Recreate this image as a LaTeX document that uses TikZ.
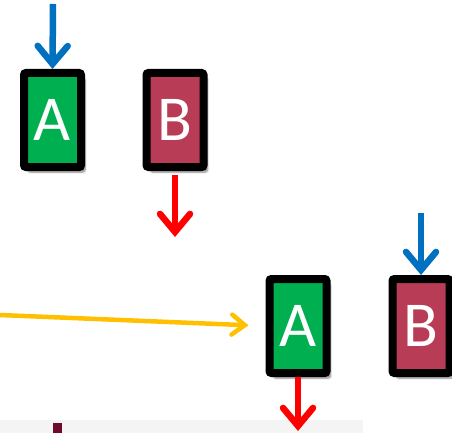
\documentclass[tikz,border=0pt]{standalone}
\usepackage{fontspec}
\setmainfont{Carlito}
\usetikzlibrary{arrows.meta,shadows.blur}
\definecolor{cardgreen}{RGB}{0,176,80}
\definecolor{cardred}{RGB}{185,60,86}
\definecolor{arrblue}{RGB}{0,112,192}
\definecolor{arrred}{RGB}{255,0,0}
\definecolor{arryellow}{RGB}{255,192,0}
\definecolor{legendred}{RGB}{110,10,45}

\begin{document}
\begin{tikzpicture}[x=1pt, y=-1pt,
  card/.style = {draw=black, line width=8pt, rounded corners=2pt, minimum width=57pt, minimum height=94pt,
    inner sep=0pt, text=white, font=\fontsize{64}{64}\selectfont,
    blur shadow={shadow xshift=4pt, shadow yshift=-5pt, shadow blur steps=6, shadow opacity=50}},
  bigarr/.style = {line width=6.5pt, -{Straight Barb[length=18pt, width=30pt, line cap=round]}},
  thinarr/.style = {line width=4.5pt, -{Straight Barb[length=13pt, width=20pt, line cap=round]}}]
\useasboundingbox (0,0) rectangle (452,433);
\fill[gray!9] (0,420) rectangle (363,440);
\fill[legendred] (53,423) rectangle (62,440);
\node[card, fill=cardgreen] (A1) at (52.5,120) {A};
\node[card, fill=cardred] (B1) at (175,120) {B};
\node[card, fill=cardgreen] (A2) at (298,326) {A};
\node[card, fill=cardred] (B2) at (421,326) {B};
\coordinate (blueAin) at (53,4);
\coordinate (redBout) at (175,237);
\coordinate (yellowin) at (0,315);
\coordinate (blueBin) at (421,213);
\coordinate (redAout) at (298,431);
\draw[bigarr, arrblue] (blueAin) -- (A1.north);
\draw[bigarr, arrred, shorten <=4pt] (B1.south) -- (redBout);
\draw[thinarr, arryellow, shorten >=17pt] (yellowin) -- (A2.west);
\draw[bigarr, arrblue] (blueBin) -- (B2.north);
\draw[bigarr, arrred] (A2.south) -- (redAout);
\end{tikzpicture}
\end{document}
